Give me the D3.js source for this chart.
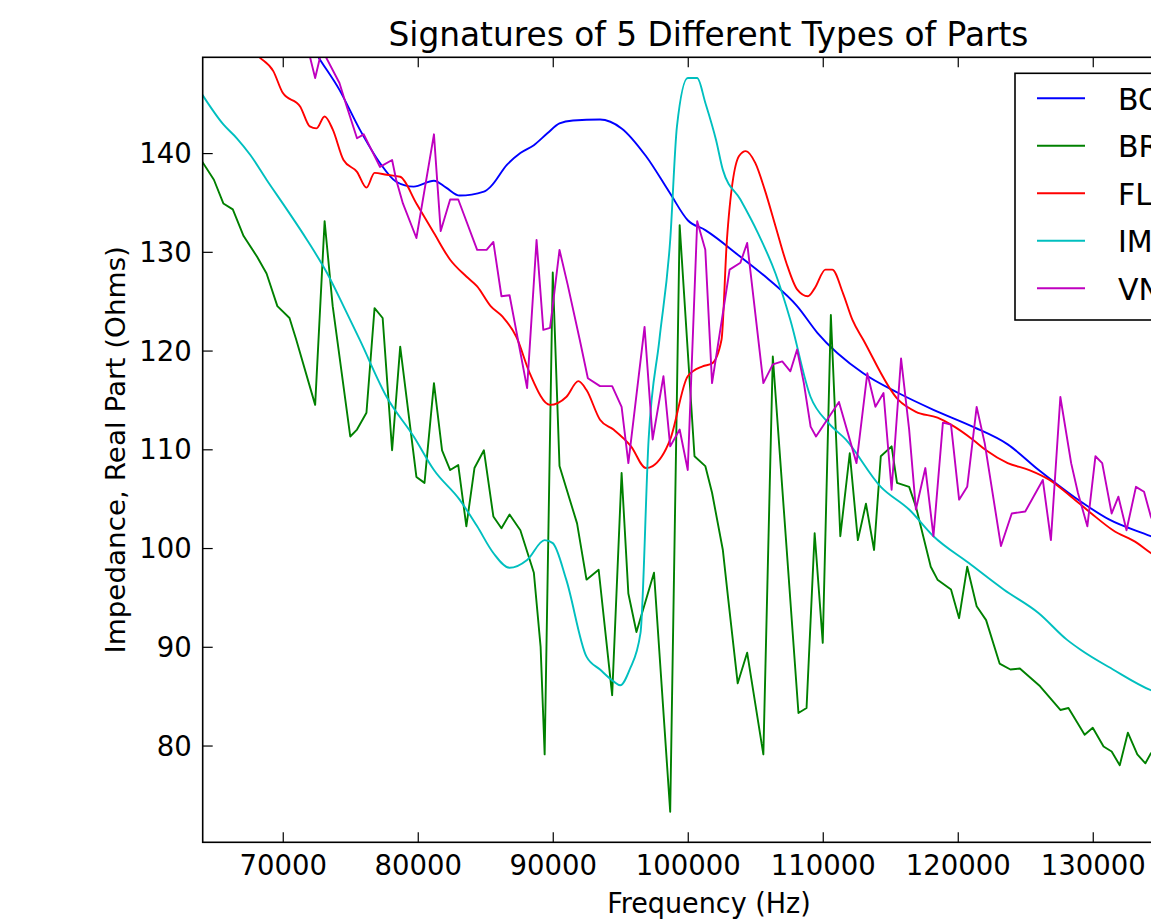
<!DOCTYPE html>
<html><head><meta charset="utf-8">
<script src="https://cdn.jsdelivr.net/npm/d3@7"></script>
<style>
body{margin:0;background:#fff;}
text{font-family:"DejaVu Sans","Bitstream Vera Sans",sans-serif;fill:#000;}
</style>
</head><body>
<svg id="chart" width="1151" height="923"></svg>
<script>
// ---- data ----
const seriesNames = ["BOLT", "BRACKET", "FLANGE", "IMPELLER", "VNUT"];
const seriesColors = ["#0000ff", "#008000", "#ff0000", "#00bfbf", "#bf00bf"];
const xTicks = [70000, 80000, 90000, 100000, 110000, 120000, 130000];
const yTicks = [80, 90, 100, 110, 120, 130, 140];

const boFreq = [71800,72600,74200,75700,77200,78400,79700,81200,82100,83100,84900,85400,86600,87600,88600,89600,90500,91500,93500,95100,96900,98700,100000,101300,103900,106000,108100,109600,113000,115600,118200,121100,123700,126000,128600,131200,134300,136000];
const boVals = [151.6,149.8,146.4,142.4,139.0,137.1,136.6,137.2,136.5,135.7,136.1,136.6,138.8,140.0,140.8,142.0,143.0,143.3,143.4,142.5,139.7,135.9,133.2,132.2,129.5,127.2,124.5,121.8,117.7,115.7,114.0,112.3,110.5,107.9,105.2,102.9,101.2,100.2];

const brFreq = [64000,64900,65600,66300,67100,68100,68800,69600,70500,71000,72400,73100,73700,75000,75500,76200,76800,77400,78100,78700,79900,80500,81200,81800,82400,83000,83600,84200,84900,85600,86200,86800,87600,88600,89100,89400,90000,90500,91800,92500,93400,94400,95100,95600,96200,97500,98700,99400,100500,101300,101800,102600,103000,103700,104400,105600,106300,108200,108800,109400,110000,110600,111300,112000,112600,113200,113800,114300,115100,115500,116400,116900,118000,118500,119500,120100,120700,121400,122100,123100,123900,124600,126100,127600,128200,129400,130000,130800,131400,132000,132600,133300,133900,134300,135000];
const brVals = [139.2,137.3,134.9,134.3,131.6,129.5,127.8,124.5,123.3,121.1,114.5,133.1,124.5,111.3,112.0,113.7,124.3,123.3,109.9,120.4,107.2,106.6,116.7,109.9,107.9,108.4,102.2,108.1,109.9,103.2,102.0,103.4,101.8,97.5,90.0,79.1,127.9,108.3,102.5,96.8,97.8,85.1,107.6,95.4,91.5,97.5,73.3,132.7,109.3,108.3,105.6,99.8,94.8,86.3,89.4,79.1,119.4,83.3,83.8,101.5,90.4,123.6,101.2,109.6,100.8,104.5,99.8,109.3,110.3,106.6,106.2,104.2,98.1,96.8,95.8,92.9,98.1,94.1,92.7,88.3,87.7,87.8,86.0,83.6,83.8,81.1,81.8,79.9,79.4,78.0,81.3,79.1,78.2,79.2,80.0];

const flFreq = [67400,68200,69300,70000,71300,72000,72500,73100,73700,74500,75500,76200,76800,77700,78700,79900,81200,82400,83600,84400,85400,86300,87300,88300,89800,91000,91900,92500,93500,94500,95800,96900,97400,98700,100000,101100,101800,102500,102900,103800,104300,105000,105700,106500,107300,108100,108900,109400,110200,110700,111500,112200,113000,115600,116900,118500,119500,121100,122100,123700,125300,126800,128400,129900,131500,133300,134300,136000];
const flVals = [151.0,149.8,148.3,146.1,144.7,142.7,142.5,143.7,142.4,139.3,138.1,136.5,138.0,137.8,137.6,134.9,131.9,129.2,127.5,126.5,124.5,123.4,121.4,117.7,114.5,115.3,116.9,116.0,113.0,112.0,110.3,108.1,108.3,111.0,117.4,118.4,118.7,121.1,131.2,139.7,140.2,139.0,136.3,132.6,128.9,126.2,125.5,126.3,128.2,128.2,125.8,123.1,121.1,115.0,113.8,113.2,112.5,111.0,109.9,108.6,107.9,106.9,105.2,103.5,101.8,100.5,99.5,98.0];

const imFreq = [64000,65600,66600,67600,68800,70300,71800,73300,74500,75700,77700,79700,81200,83100,84400,85600,86800,88100,89400,90000,91000,92500,93500,94500,95000,95700,96500,97100,97900,98700,99200,100000,100700,101300,102100,102600,103900,105200,106500,107600,109100,110400,111700,114300,116400,118200,120800,123400,126000,128100,129100,131500,134300,136000];
const imVals = [146.0,142.9,141.5,139.8,137.3,134.3,131.2,127.8,124.5,121.1,115.3,111.3,107.9,104.9,102.2,99.5,98.0,98.8,100.8,100.5,96.8,89.0,87.7,86.5,86.1,87.7,91.4,111.0,121.1,131.2,142.7,147.6,147.6,145.1,141.3,138.3,135.3,131.9,127.8,123.1,115.3,112.7,111.0,106.2,103.9,101.2,98.5,95.8,93.4,90.7,89.7,87.7,85.6,84.8];

const vnFreq = [71700,72400,72900,74200,74700,75500,76000,77200,78100,78400,78900,79900,81200,81700,82400,83000,84400,85100,85600,86200,86800,88100,88800,89300,89800,90500,91100,92000,92600,93500,94400,95100,95600,96800,97400,98200,98700,99400,100000,100700,101300,101800,103100,103900,104400,105600,106300,107000,107600,108100,108600,109100,109500,111200,112500,113300,113900,114500,115100,115800,116400,116900,117600,118200,118900,119500,120100,120700,121400,122000,123200,124000,125000,126300,126900,127600,128400,128900,129600,130200,130700,131400,131900,132500,133200,133800,134300,135000];
const vnVals = [151.5,147.6,150.5,147.1,144.9,141.5,141.9,138.6,139.3,137.3,134.9,131.4,141.9,132.1,135.3,135.3,130.2,130.2,131.0,125.5,125.6,116.2,131.2,122.1,122.3,130.2,126.7,121.1,117.2,116.4,116.4,114.3,108.6,122.4,111.0,117.4,110.3,112.0,107.9,133.1,130.2,116.7,128.2,128.9,130.9,116.7,118.6,118.9,117.9,120.1,116.7,112.3,111.3,114.8,108.6,117.7,114.3,115.7,105.9,119.2,112.0,103.9,108.1,101.2,112.7,112.5,104.9,106.2,114.3,110.6,100.2,103.5,103.7,106.9,100.8,115.3,108.6,105.6,102.2,109.3,108.6,103.5,105.2,101.8,106.2,105.7,103.2,101.0];

const seriesFreq = [boFreq, brFreq, flFreq, imFreq, vnFreq];
const seriesVals = [boVals, brVals, flVals, imVals, vnVals];
const smoothSeries = [true, false, true, true, false];

// ---- drawing ----
const svg = d3.select("#chart");
svg.append("rect").attr("width",1151).attr("height",923).attr("fill","#fff");

const L = 202.7, R = 1215.2, T = 57.3, B = 842.3;
const x = d3.scaleLinear().domain([64070, 139070]).range([L, R]);
const y = d3.scaleLinear().domain([70.2, 149.7]).range([B, T]);

svg.append("defs").append("clipPath").attr("id","plotclip")
  .append("rect").attr("x",L).attr("y",T).attr("width",R-L).attr("height",B-T);

const plot = svg.append("g").attr("clip-path","url(#plotclip)");
seriesNames.forEach((name,i)=>{
  const pts = seriesFreq[i].map((f,j)=>[f, seriesVals[i][j]]);
  const line = d3.line().x(d=>x(d[0])).y(d=>y(d[1]))
    .curve(smoothSeries[i] ? d3.curveMonotoneX : d3.curveLinear);
  plot.append("path").datum(pts).attr("d", line)
    .attr("fill","none").attr("stroke", seriesColors[i])
    .attr("stroke-width", 1.9).attr("stroke-linejoin","round");
});

// axes (ticks inward, on all four sides)
const fs = 27.5;
const xb = svg.append("g").attr("transform",`translate(0,${B})`)
  .call(d3.axisBottom(x).tickValues(xTicks).tickSizeInner(-10).tickSizeOuter(0).tickPadding(14).tickFormat(d3.format("d")));
const xt = svg.append("g").attr("transform",`translate(0,${T})`)
  .call(d3.axisTop(x).tickValues(xTicks).tickSizeInner(-10).tickSizeOuter(0).tickFormat(""));
const yl = svg.append("g").attr("transform",`translate(${L},0)`)
  .call(d3.axisLeft(y).tickValues(yTicks).tickSizeInner(-10).tickSizeOuter(0).tickPadding(11).tickFormat(d3.format("d")));
const yr = svg.append("g").attr("transform",`translate(${R},0)`)
  .call(d3.axisRight(y).tickValues(yTicks).tickSizeInner(-10).tickSizeOuter(0).tickFormat(""));
[xb,xt,yl,yr].forEach(g=>{
  g.select(".domain").remove();
  g.selectAll(".tick line").attr("stroke","#000").attr("stroke-width",1.2);
  g.selectAll("text").attr("font-size",fs).attr("font-family",'"DejaVu Sans",sans-serif').attr("fill","#111");
});
xb.selectAll("text").attr("dy",null).attr("y",null).attr("dominant-baseline",null)
  .attr("transform","translate(0,32.5) scale(1,1.05)");
yl.selectAll("text").attr("dy",null).attr("transform","translate(0,9.5) scale(1,1.05)");

// frame
svg.append("rect").attr("x",L).attr("y",T).attr("width",R-L).attr("height",B-T)
  .attr("fill","none").attr("stroke","#000").attr("stroke-width",1.6);

// titles
svg.append("text").attr("text-anchor","middle").attr("font-size",32.8)
  .attr("transform",`translate(${(L+R)/2 - 0.5},45.5)`).attr("fill","#111")
  .text("Signatures of 5 Different Types of Parts");
svg.append("text").attr("text-anchor","middle").attr("font-size",27)
  .attr("transform",`translate(${(L+R)/2},913) scale(1,1.03)`).attr("fill","#111")
  .text("Frequency (Hz)");
svg.append("text").attr("text-anchor","middle").attr("font-size",27)
  .attr("transform",`translate(125,${(T+B)/2}) rotate(-90) scale(1.03,1)`).attr("fill","#111")
  .text("Impedance, Real Part (Ohms)");

// legend
const lg = svg.append("g");
lg.append("rect").attr("x",1015).attr("y",73.3).attr("width",184).attr("height",246.7)
  .attr("fill","#fff").attr("stroke","#000").attr("stroke-width",1.6);
seriesNames.forEach((name,i)=>{
  const ly = 98.3 + i*47.5;
  lg.append("line").attr("x1",1037).attr("x2",1085).attr("y1",ly).attr("y2",ly)
    .attr("stroke",seriesColors[i]).attr("stroke-width",1.9);
  lg.append("text").attr("x",1118).attr("y",ly+11.5).attr("font-size",30).attr("fill","#111").text(name);
});
</script>
</body></html>
